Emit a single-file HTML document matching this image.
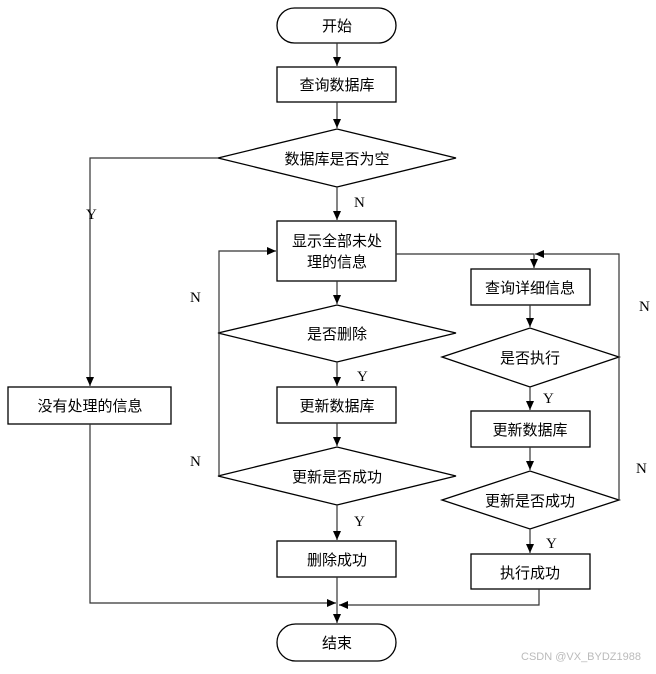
<!DOCTYPE html>
<html><head><meta charset="utf-8"><style>
html,body{margin:0;padding:0;background:#fff;}
svg text{font-family:"Liberation Serif","Noto Sans CJK SC",serif;font-size:15px;fill:#000;}
</style></head><body>
<svg width="656" height="669" viewBox="0 0 656 669" xmlns="http://www.w3.org/2000/svg">
<defs><marker id="a" markerWidth="10" markerHeight="10" refX="9" refY="5" orient="auto" markerUnits="userSpaceOnUse"><path d="M0,1 L9,5 L0,9 Z" fill="#000"/></marker></defs>
<g stroke="#000" stroke-width="1.3" fill="#fff">
<rect x="277" y="8" width="119" height="35" rx="17.5"/>
<rect x="277" y="67" width="119" height="35"/>
<polygon points="218,158 337,129 456,158 337,187"/>
<rect x="277" y="221" width="119" height="60"/>
<polygon points="218,333 337,305 456,333 337,362"/>
<rect x="277" y="387" width="119" height="36"/>
<polygon points="218,476 337,447 456,476 337,505"/>
<rect x="277" y="541" width="119" height="36"/>
<rect x="277" y="624" width="119" height="37" rx="18.5"/>
<rect x="8" y="387" width="163" height="37"/>
<rect x="471" y="269" width="119" height="36"/>
<polygon points="442,357 530,328 619,357 530,387"/>
<rect x="471" y="411" width="119" height="36"/>
<polygon points="442,500 530,471 619,500 530,529"/>
<rect x="471" y="554" width="119" height="35"/>
</g>
<g stroke="#333" stroke-width="1.2" fill="none" marker-end="url(#a)">
<line x1="337" y1="43" x2="337" y2="66"/>
<line x1="337" y1="102" x2="337" y2="128"/>
<line x1="337" y1="187" x2="337" y2="220"/>
<line x1="337" y1="281" x2="337" y2="304"/>
<line x1="337" y1="362" x2="337" y2="386"/>
<line x1="337" y1="423" x2="337" y2="446"/>
<line x1="337" y1="505" x2="337" y2="540"/>
<line x1="337" y1="577" x2="337" y2="623"/>
<polyline points="218,158 90,158 90,386"/>
<polyline points="219,476 219,251 276,251"/>
<polyline points="396,254 534,254 534,268"/>
<polyline points="619,500 619,254 535,254"/>
<line x1="530" y1="305" x2="530" y2="327"/>
<line x1="530" y1="387" x2="530" y2="410"/>
<line x1="530" y1="447" x2="530" y2="470"/>
<line x1="530" y1="529" x2="530" y2="553"/>
<polyline points="90,424 90,603 336,603"/>
<polyline points="539,589 539,605 339,605"/>
</g>
<g text-anchor="middle">
<text x="337" y="31">开始</text>
<text x="337" y="90">查询数据库</text>
<text x="337" y="164">数据库是否为空</text>
<text x="337" y="246">显示全部未处</text>
<text x="337" y="267">理的信息</text>
<text x="337" y="339">是否删除</text>
<text x="337" y="411">更新数据库</text>
<text x="337" y="482">更新是否成功</text>
<text x="337" y="565">删除成功</text>
<text x="337" y="648">结束</text>
<text x="90" y="411">没有处理的信息</text>
<text x="530" y="293">查询详细信息</text>
<text x="530" y="363">是否执行</text>
<text x="530" y="435">更新数据库</text>
<text x="530" y="506">更新是否成功</text>
<text x="530" y="578">执行成功</text>
</g>
<g font-size="14">
<text x="354" y="207">N</text>
<text x="86" y="219">Y</text>
<text x="190" y="302">N</text>
<text x="190" y="466">N</text>
<text x="357" y="381">Y</text>
<text x="354" y="526">Y</text>
<text x="543" y="403">Y</text>
<text x="546" y="548">Y</text>
<text x="639" y="311">N</text>
<text x="636" y="473">N</text>
</g>
<text x="521" y="660" style="font-family:'Liberation Sans',sans-serif;font-size:11px;fill:#bbb;">CSDN @VX_BYDZ1988</text>
</svg>
</body></html>
